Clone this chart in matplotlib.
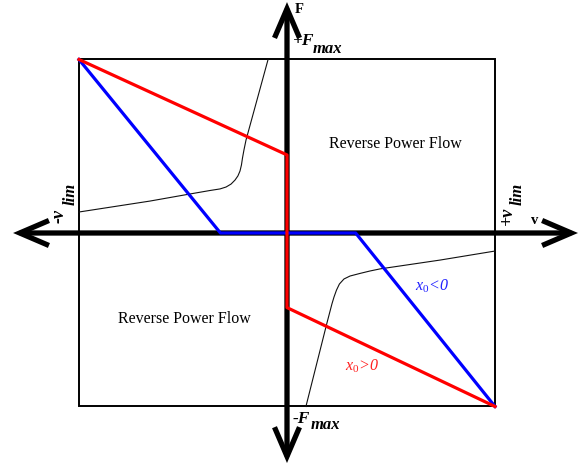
import matplotlib
matplotlib.use("Agg")
import matplotlib.pyplot as plt
from matplotlib.patches import FancyArrowPatch, Rectangle

plt.rcParams["font.family"] = ["Liberation Serif", "DejaVu Serif"]
plt.rcParams["mathtext.fontset"] = "custom"
plt.rcParams["mathtext.it"] = "Liberation Serif:italic"
plt.rcParams["mathtext.rm"] = "Liberation Serif"

# limits of the operating region (normalised)
v_lim = 1.0
F_max = 1.0

# force/velocity characteristic for x0 > 0 (red) and x0 < 0 (blue)
red_v = [-1.0, 0.0, 0.0, 1.0]
red_F = [1.0, 0.45, -0.43, -1.0]
blue_v = [-1.0, -0.32, 0.33, 1.0]
blue_F = [1.0, 0.0, 0.0, -1.0]

# thin hyperbola-like boundary curves
curve1_v = [-1.0, -0.659, -0.466, -0.370, -0.322, -0.293, -0.269, -0.250, -0.236,
            -0.226, -0.219, -0.214, -0.207, -0.197, -0.091]
curve1_F = [0.121, 0.184, 0.225, 0.245, 0.254, 0.265, 0.282, 0.305, 0.329,
            0.357, 0.392, 0.432, 0.478, 0.536, 1.0]
curve2_v = [1.0, 0.736, 0.447, 0.399, 0.351, 0.303, 0.274, 0.252, 0.238,
            0.226, 0.216, 0.192, 0.091]
curve2_F = [-0.104, -0.156, -0.207, -0.219, -0.233, -0.248, -0.265, -0.294, -0.329,
            -0.369, -0.409, -0.519, -1.0]

# axis arrow extents
v_axis = (-1.317, 1.399)
F_axis = (-1.326, 1.331)

fig = plt.figure(figsize=(5.83, 4.67), dpi=100)
ax = fig.add_axes([0, 0, 1, 1])
ax.set_xlim(-1.3798, 1.4231)
ax.set_ylim(-1.3487, 1.3429)
ax.axis("off")

ax.add_patch(Rectangle((-v_lim, -F_max), 2 * v_lim, 2 * F_max,
                       fill=False, edgecolor="black", linewidth=1.4, zorder=1))

ax.plot(curve1_v, curve1_F, color="#111111", linewidth=0.8, zorder=2)
ax.plot(curve2_v, curve2_F, color="#111111", linewidth=0.8, zorder=2)

arrow_kw = dict(arrowstyle="<->,head_length=21,head_width=9", mutation_scale=1,
                color="black", linewidth=3.8, shrinkA=0, shrinkB=0, zorder=3,
                joinstyle="miter", capstyle="butt")
ax.add_patch(FancyArrowPatch((v_axis[0], 0), (v_axis[1], 0), **arrow_kw))
ax.add_patch(FancyArrowPatch((0, F_axis[0]), (0, F_axis[1]), **arrow_kw))

ax.plot(blue_v, blue_F, color="#0000ff", linewidth=2.3, zorder=4)
ax.plot(red_v, red_F, color="#ff0000", linewidth=2.3, zorder=5)

# axis names
ax.text(0.058, 1.291, "F", fontsize=10.5, fontweight="bold", ha="center", va="center")
ax.text(1.192, 0.072, "v", fontsize=10.5, fontweight="bold", ha="center", va="center")

# limit labels with enlarged subscripts
bi = dict(fontweight="bold", fontstyle="italic")
ax.text(0.029, 1.084, "+F", fontsize=12.5, ha="left", va="baseline", **bi)
ax.text(0.125, 1.037, "max", fontsize=12, ha="left", va="baseline", **bi)
ax.text(0.029, -1.095, "-F", fontsize=12.5, ha="left", va="baseline", **bi)
ax.text(0.113, -1.128, "max", fontsize=12, ha="left", va="baseline", **bi)

rot = dict(rotation=90, rotation_mode="anchor", ha="left", va="baseline")
ax.text(-1.072, 0.058, "-v", fontsize=13, **rot, **bi)
ax.text(-1.019, 0.161, "lim", fontsize=12, **rot, **bi)
ax.text(1.079, 0.046, "+v", fontsize=13, **rot, **bi)
ax.text(1.130, 0.161, "lim", fontsize=12, **rot, **bi)

# region labels
ax.text(0.519, 0.513, "Reverse Power Flow", fontsize=11.5, ha="center", va="center")
ax.text(-0.495, -0.496, "Reverse Power Flow", fontsize=11.5, ha="center", va="center")

ax.text(0.697, -0.305, r"$\mathit{x_0}$<0", fontsize=11.5, fontstyle="italic",
        color="#2020ff", ha="center", va="center")
ax.text(0.361, -0.767, r"$\mathit{x_0}$>0", fontsize=11.5, fontstyle="italic",
        color="#ff2020", ha="center", va="center")

fig.savefig("out.png", dpi=100)
